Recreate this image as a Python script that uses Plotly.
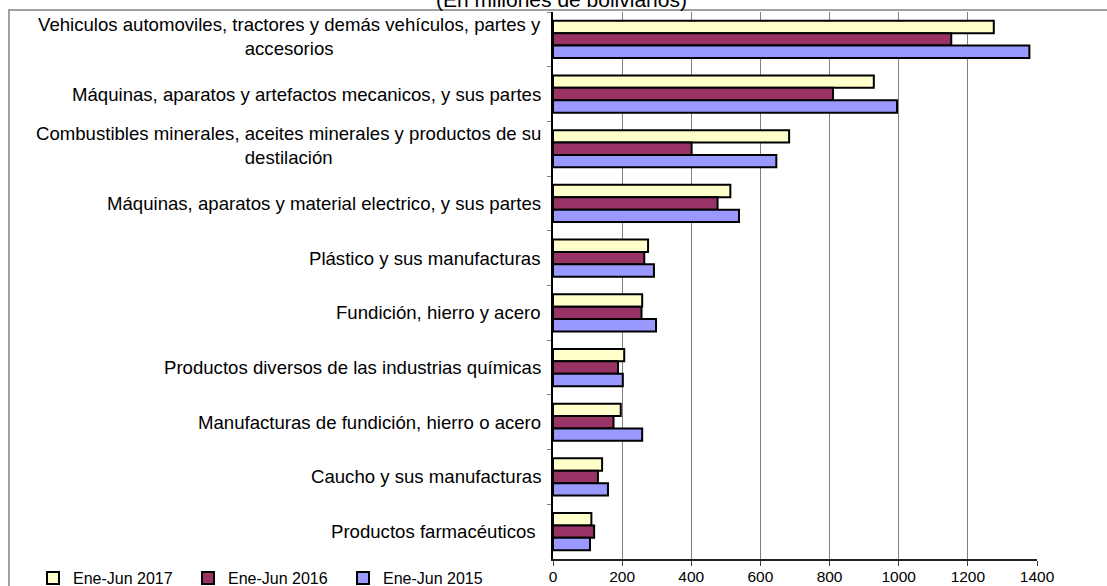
import plotly.graph_objects as go

categories = [
    "Vehiculos automoviles, tractores y demás vehículos, partes y accesorios",
    "Máquinas, aparatos y artefactos mecanicos, y sus partes",
    "Combustibles minerales, aceites minerales y productos de su destilación",
    "Máquinas, aparatos y material electrico, y sus partes",
    "Plástico y sus manufacturas",
    "Fundición, hierro y acero",
    "Productos diversos de las industrias químicas",
    "Manufacturas de fundición, hierro o acero",
    "Caucho y sus manufacturas",
    "Productos farmacéuticos",
]
category_labels = [
    "Vehiculos automoviles, tractores y demás vehículos, partes y<br>accesorios",
    "Máquinas, aparatos y artefactos mecanicos, y sus partes",
    "Combustibles minerales, aceites minerales y productos de su<br>destilación",
    "Máquinas, aparatos y material electrico, y sus partes",
    "Plástico y sus manufacturas",
    "Fundición, hierro y acero",
    "Productos diversos de las industrias químicas",
    "Manufacturas de fundición, hierro o acero",
    "Caucho y sus manufacturas",
    "Productos farmacéuticos\u00a0",
]
v2017 = [1275, 928, 683, 513, 275, 258, 206, 196, 142, 111]
v2016 = [1152, 810, 401, 476, 264, 256, 188, 175, 130, 119]
v2015 = [1378, 995, 646, 538, 292, 298, 202, 258, 159, 107]
series_names = ["Ene-Jun 2017", "Ene-Jun 2016", "Ene-Jun 2015"]
series_values = [v2017, v2016, v2015]
colors = ["#FFFFCC", "#993366", "#9999FF"]
x_ticks = [0, 200, 400, 600, 800, 1000, 1200, 1400]
title_text = "(En millones de bolivianos)"

FONT = "Liberation Sans, Arial, sans-serif"
W, H = 1107, 586
L, R, T, B = 553, 70, 12, 27
pw, ph = W - L - R, H - T - B

def px_to_paper_x(px):
    return (px - L) / pw

def px_to_paper_y(py):
    return (H - B - py) / ph

fig = go.Figure()
for name, vals, col in zip(series_names, series_values, colors):
    fig.add_trace(go.Bar(
        y=categories, x=vals, name=name, orientation="h",
        marker=dict(color=col, line=dict(color="black", width=2)),
    ))

LABEL_SIZE = 18.6
annotations = []
for cat, lab in zip(categories, category_labels):
    multi = "<br>" in lab
    annotations.append(dict(
        x=0, xref="paper", y=cat, yref="y", text=lab, showarrow=False,
        xanchor="right", yanchor="middle", align="center",
        xshift=-10, yshift=3 if multi else 0,
        font=dict(family=FONT, size=LABEL_SIZE, color="black"),
    ))

annotations.append(dict(
    x=px_to_paper_x(561), xref="paper", y=px_to_paper_y(0), yref="paper",
    text=title_text, showarrow=False, xanchor="center", yanchor="middle",
    font=dict(family=FONT, size=21, color="black"),
))

fig.update_layout(
    width=W, height=H,
    margin=dict(l=L, r=R, t=T, b=B, autoexpand=False),
    paper_bgcolor="white", plot_bgcolor="white",
    font=dict(family=FONT, size=16, color="black"),
    barmode="group", bargap=0.32, bargroupgap=0,
    showlegend=True,
    legend=dict(
        orientation="h", x=px_to_paper_x(33), y=px_to_paper_y(578),
        xanchor="left", yanchor="middle", itemwidth=30,
        entrywidth=110, entrywidthmode="pixels",
        font=dict(family=FONT, size=16, color="black"),
        bgcolor="rgba(0,0,0,0)", traceorder="normal",
    ),
    annotations=annotations,
    shapes=[dict(
        type="rect", xref="paper", yref="paper",
        x0=px_to_paper_x(9), x1=px_to_paper_x(1300),
        y0=px_to_paper_y(10), y1=px_to_paper_y(800),
        line=dict(color="#A0A0A0", width=2), layer="below",
    )],
)
fig.update_xaxes(
    range=[0, 1400], tickvals=x_ticks, showgrid=True, gridcolor="#808080",
    gridwidth=1, showline=True, linecolor="#202020", linewidth=2,
    ticks="outside", ticklen=5, tickcolor="#404040", ticklabelstandoff=-3,
    tickfont=dict(family=FONT, size=15.5, color="black"), zeroline=False,
)
fig.update_yaxes(
    type="category", autorange="reversed", showgrid=False,
    showline=True, linecolor="black", linewidth=2,
    ticks="outside", tickson="boundaries", ticklen=4, tickcolor="#808080",
    showticklabels=False, zeroline=False,
)

fig.write_html(
    "out.html",
    config={"displayModeBar": False},
    post_script="document.body.style.margin='0px';",
)
